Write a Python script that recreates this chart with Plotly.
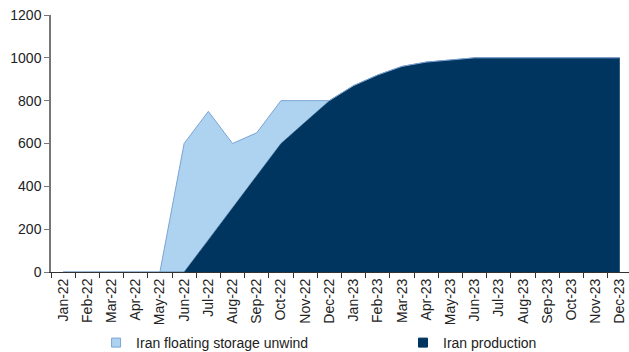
import plotly.graph_objects as go

months = ["Jan-22", "Feb-22", "Mar-22", "Apr-22", "May-22", "Jun-22", "Jul-22", "Aug-22",
          "Sep-22", "Oct-22", "Nov-22", "Dec-22", "Jan-23", "Feb-23", "Mar-23", "Apr-23",
          "May-23", "Jun-23", "Jul-23", "Aug-23", "Sep-23", "Oct-23", "Nov-23", "Dec-23"]
production = [0, 0, 0, 0, 0, 0, 150, 300, 450, 600, 700, 800,
              870, 920, 960, 980, 990, 1000, 1000, 1000, 1000, 1000, 1000, 1000]
floating = [0, 0, 0, 0, 0, 600, 600, 300, 200, 200, 100, 0,
            0, 0, 0, 0, 0, 0, 0, 0, 0, 0, 0, 0]
y_ticks = [0, 200, 400, 600, 800, 1000, 1200]

DARK = "#003560"
LIGHT = "#AED3F0"
LIGHT_LINE = "#7BA3D4"
FONT = "Liberation Sans, Arial, sans-serif"
FS = 14

fig = go.Figure()
fig.add_trace(go.Scatter(x=months, y=production, stackgroup="one", mode="lines",
                         line=dict(width=0.5, color=DARK), fillcolor=DARK,
                         showlegend=False, hoverinfo="x+y"))
fig.add_trace(go.Scatter(x=months, y=floating, stackgroup="one", mode="lines",
                         line=dict(width=1, color=LIGHT_LINE), fillcolor=LIGHT,
                         showlegend=False, hoverinfo="x+y"))
# legend entries
fig.add_trace(go.Scatter(x=[None], y=[None], mode="markers", name="Iran floating storage unwind",
                         marker=dict(symbol="square", size=9, color=LIGHT,
                                     line=dict(color=LIGHT_LINE, width=1)),
                         legend="legend"))
fig.add_trace(go.Scatter(x=[None], y=[None], mode="markers", name="Iran production",
                         marker=dict(symbol="square", size=9, color=DARK,
                                     line=dict(color=DARK, width=1)),
                         legend="legend2"))

leg_y = 1 - 343 / 352
fig.update_layout(
    width=629, height=352,
    margin=dict(l=51, r=0, t=15, b=80, autoexpand=False),
    paper_bgcolor="white", plot_bgcolor="white",
    font=dict(family=FONT, size=FS, color="#222222"),
    legend=dict(orientation="h", x=0.078, xanchor="left", y=leg_y, yanchor="middle",
                yref="container",
                font=dict(family=FONT, size=FS, color="#222222"), bgcolor="rgba(0,0,0,0)"),
    legend2=dict(orientation="h", x=0.609, xanchor="left", y=leg_y, yanchor="middle",
                 yref="container",
                 font=dict(family=FONT, size=FS, color="#222222"), bgcolor="rgba(0,0,0,0)"),
)
fig.update_xaxes(type="category", categoryorder="array", categoryarray=months,
                 range=[-0.5, 23.38], tickson="boundaries", ticks="outside", ticklen=5,
                 tickcolor="#333333", tickangle=-90, showline=True, linecolor="#333333",
                 linewidth=1, showgrid=False, zeroline=False, automargin=False,
                 tickfont=dict(family=FONT, size=FS, color="#222222"))
fig.update_yaxes(range=[0, 1200], tickvals=y_ticks, ticks="outside", ticklen=5,
                 tickcolor="#777777", showline=True, linecolor="#777777", linewidth=1.5,
                 showgrid=False, zeroline=False, automargin=False,
                 tickfont=dict(family=FONT, size=FS, color="#222222"))

fig.write_html("out.html")
